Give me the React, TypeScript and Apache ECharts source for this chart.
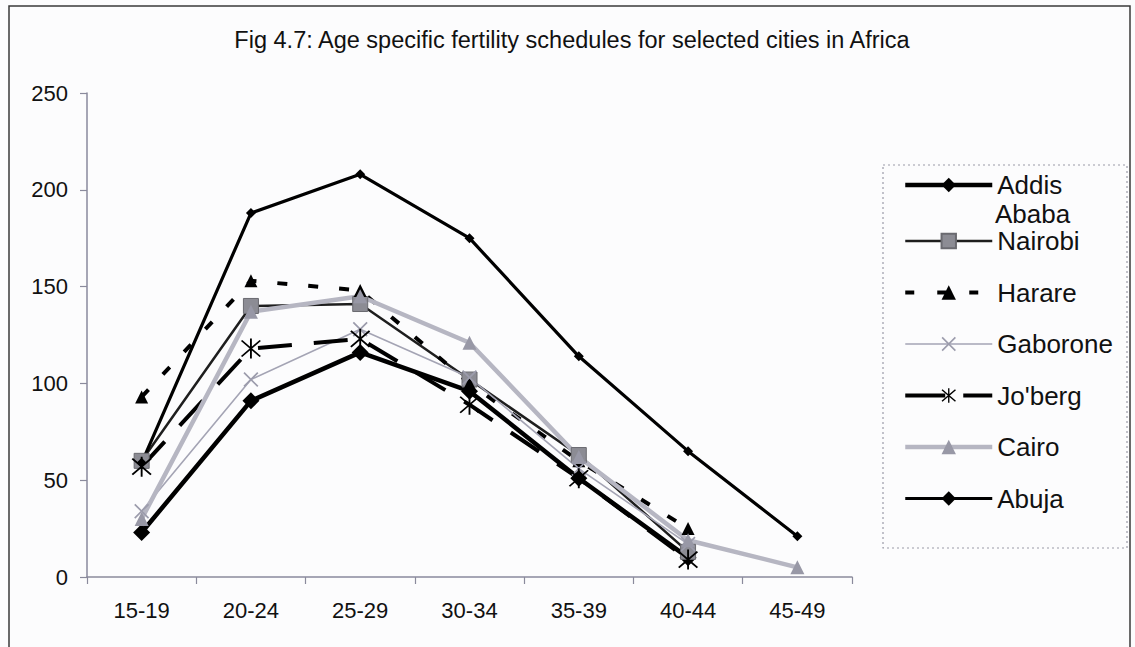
import React, { useEffect, useRef } from "react";
import * as echarts from "echarts";

// Age groups on the x axis
const CATEGORIES = ["15-19", "20-24", "25-29", "30-34", "35-39", "40-44", "45-49"];

// Age specific fertility rates (births per 1000 women)
const ADDIS_ABABA = [23, 91, 116, 96, 51, 10];
const NAIROBI = [60, 140, 141, 102, 63, 13];
const HARARE = [93, 153, 148, 100, 60, 25];
const GABORONE = [34, 102, 128, 103, 56, 17];
const JOBERG = [57, 118, 123, 89, 51, 9];
const CAIRO = [30, 137, 145, 121, 62, 19, 5];
const ABUJA = [59, 188, 208, 175, 114, 65, 21];

const Y_MIN = 0;
const Y_MAX = 250;
const Y_STEP = 50;

const FONT = '"Liberation Sans", Arial, Helvetica, sans-serif';

// Custom marker shapes
const ASTERISK =
  "path://M9.2,0 L10.8,0 L10.8,20 L9.2,20 Z " +
  "M2.57,1.43 L18.57,17.43 L17.43,18.57 L1.43,2.57 Z " +
  "M18.57,2.57 L2.57,18.57 L1.43,17.43 L17.43,1.43 Z";
const CROSS =
  "path://M2.7,1.3 L18.7,17.3 L17.3,18.7 L1.3,2.7 Z " +
  "M18.7,2.7 L2.7,18.7 L1.3,17.3 L17.3,1.3 Z";

export default function App() {
  const ref = useRef<HTMLDivElement>(null);

  useEffect(() => {
    if (!ref.current) return;
    const chart = echarts.init(ref.current, undefined, { renderer: "svg" });

    const series: any[] = [
      {
        name: "Addis Ababa",
        type: "line",
        data: ADDIS_ABABA,
        symbol: "diamond",
        symbolSize: 17,
        lineStyle: { color: "#000", width: 4.5 },
        itemStyle: { color: "#000" },
      },
      {
        name: "Nairobi",
        type: "line",
        data: NAIROBI,
        symbol: "rect",
        symbolSize: 15,
        lineStyle: { color: "#1e1e1e", width: 2.5 },
        itemStyle: { color: "#8c8c94", borderColor: "#6a6a70", borderWidth: 1 },
      },
      {
        name: "Harare",
        type: "line",
        data: HARARE,
        symbol: "triangle",
        symbolSize: 13,
        lineStyle: { color: "#000", width: 4, type: [10, 21], cap: "butt" },
        itemStyle: { color: "#000" },
      },
      {
        name: "Gaborone",
        type: "line",
        data: GABORONE,
        symbol: CROSS,
        symbolSize: 15,
        lineStyle: { color: "#a4a4b4", width: 1.6 },
        itemStyle: { color: "#9c9cac" },
      },
      {
        name: "Jo'berg",
        type: "line",
        data: JOBERG,
        symbol: ASTERISK,
        symbolSize: 20,
        lineStyle: { color: "#000", width: 4, type: [34, 22], cap: "butt" },
        itemStyle: { color: "#000" },
      },
      {
        name: "Cairo",
        type: "line",
        data: CAIRO,
        symbol: "triangle",
        symbolSize: 14,
        lineStyle: { color: "#b6b6c2", width: 4.5 },
        itemStyle: { color: "#9898a6" },
      },
      {
        name: "Abuja",
        type: "line",
        data: ABUJA,
        symbol: "diamond",
        symbolSize: 10,
        lineStyle: { color: "#000", width: 3.2 },
        itemStyle: { color: "#000" },
      },
    ];
    series.forEach((s) => {
      s.showSymbol = true;
      s.showAllSymbol = true;
    });

    // Legend dash patterns tuned to the 87px sample line
    const LEGEND_DASH: Record<string, number[]> = {
      Harare: [9, 23],
      "Jo'berg": [40, 18],
    };

    // Legend entries reuse each series' line width
    const legendItem = (s: any) => ({
      name: s.name,
      lineStyle: LEGEND_DASH[s.name]
        ? { width: s.lineStyle.width, type: LEGEND_DASH[s.name] }
        : { width: s.lineStyle.width },
    });

    const legendBase = {
      orient: "vertical",
      left: 903,
      padding: 0,
      itemWidth: 87,
      itemHeight: 18,
      selectedMode: false,
      textStyle: { fontFamily: FONT, fontSize: 26, lineHeight: 26, color: "#111" },
    };

    chart.setOption({
      animation: false,
      backgroundColor: "#fcfcfd",
      title: {
        text: "Fig 4.7: Age specific fertility schedules for selected cities in Africa",
        left: 572,
        top: 28,
        textAlign: "center",
        padding: 0,
        textStyle: { fontFamily: FONT, fontSize: 23.5, fontWeight: "normal", color: "#111" },
      },
      grid: { left: 87, right: 283, top: 93, bottom: 70, containLabel: false },
      legend: [
        {
          ...legendBase,
          top: 172,
          itemGap: 0,
          data: [legendItem(series[0])],
          formatter: () => "Addis",
        },
        {
          ...legendBase,
          top: 228,
          itemGap: 25.5,
          data: series.slice(1).map(legendItem),
        },
      ],
      xAxis: {
        type: "category",
        data: CATEGORIES,
        boundaryGap: true,
        axisLine: { show: true, lineStyle: { color: "#8a8a9c", width: 1.5 } },
        axisTick: { show: true, length: 7, lineStyle: { color: "#8a8a9c", width: 1.2 } },
        axisLabel: { margin: 22, fontFamily: FONT, fontSize: 22, color: "#111" },
        splitLine: { show: false },
      },
      yAxis: {
        type: "value",
        min: Y_MIN,
        max: Y_MAX,
        interval: Y_STEP,
        axisLine: { show: true, lineStyle: { color: "#8a8a9c", width: 1.5 } },
        axisTick: { show: true, length: 7, lineStyle: { color: "#8a8a9c", width: 1.2 } },
        axisLabel: { margin: 19, fontFamily: FONT, fontSize: 22, color: "#111" },
        splitLine: { show: false },
      },
      graphic: [
        {
          type: "rect",
          silent: true,
          z: -10,
          shape: { x: 9, y: 6, width: 1121, height: 700 },
          style: { fill: "none", stroke: "#3a3a3a", lineWidth: 1.5 },
        },
        {
          type: "rect",
          silent: true,
          shape: { x: 883, y: 165, width: 244, height: 383 },
          style: { fill: "none", stroke: "#9a9aa8", lineWidth: 1.2, lineDash: [2, 3] },
        },
        {
          type: "text",
          silent: true,
          x: 995,
          y: 214,
          style: {
            text: "Ababa",
            font: `26px ${FONT}`,
            fill: "#111",
            verticalAlign: "middle",
          },
        },
      ],
      series,
    });

    return () => chart.dispose();
  }, []);

  return (
    <div
      ref={ref}
      style={{ position: "absolute", left: 0, top: 0, width: 1135, height: 647 }}
    />
  );
}
